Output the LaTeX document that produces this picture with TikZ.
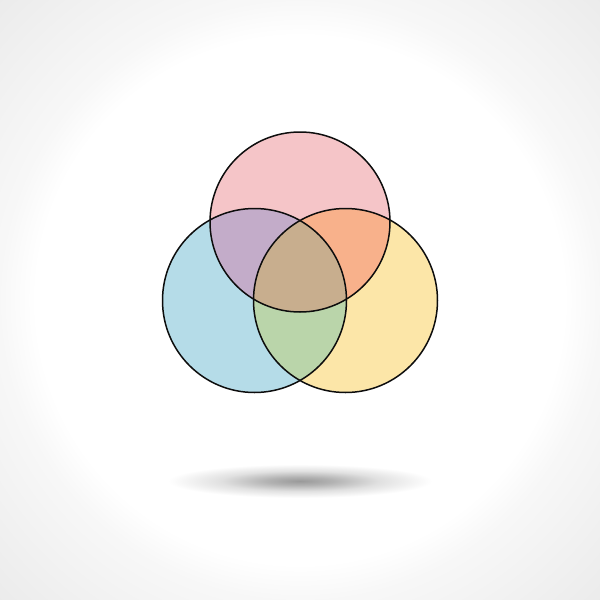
\documentclass[tikz,border=0pt]{standalone}
\definecolor{pinkc}{HTML}{F5C5C8}
\definecolor{bluec}{HTML}{B5DCE8}
\definecolor{yellowc}{HTML}{FCE6A8}
\definecolor{purplec}{HTML}{C3ACC9}
\definecolor{orangec}{HTML}{F8B18B}
\definecolor{greenc}{HTML}{BAD5AA}
\definecolor{centerc}{HTML}{C8AE8E}
\pgfdeclareradialshading{vign}{\pgfpoint{0bp}{0bp}}{color(0bp)=(white); color(22bp)=(white); color(25bp)=(black!3); color(36bp)=(black!8); color(50bp)=(black!8)}
\pgfdeclareradialshading{shadowsh}{\pgfpoint{0bp}{0bp}}{color(0bp)=(black!40); color(5bp)=(black!30); color(12bp)=(black!12); color(20bp)=(white); color(50bp)=(white)}
\tikzset{ring/.style={draw=black!95, line width=1.5pt}}
\begin{document}
\begin{tikzpicture}[x=1pt,y=-1pt]
\useasboundingbox (0,0) rectangle (600,600);
\shade[shading=vign] (0,0) rectangle (600,600);
\shade[shading=shadowsh] (300,481) ellipse [x radius=165, y radius=21];
\coordinate (T) at (300,222);
\coordinate (L) at (254.5,300.5);
\coordinate (R) at (345.5,300.5);
\fill[pinkc] (T) circle[radius=90];
\fill[bluec] (L) circle[radius=92];
\fill[yellowc] (R) circle[radius=92];
\begin{scope}
  \clip (L) circle[radius=92];
  \fill[greenc] (R) circle[radius=92];
\end{scope}
\begin{scope}
  \clip (T) circle[radius=90];
  \fill[purplec] (L) circle[radius=92];
  \fill[orangec] (R) circle[radius=92];
  \clip (L) circle[radius=92];
  \fill[centerc] (R) circle[radius=92];
\end{scope}
\node[ring, circle, inner sep=0pt, minimum size=180pt] (top) at (T) {};
\node[ring, circle, inner sep=0pt, minimum size=184pt] (left) at (L) {};
\node[ring, circle, inner sep=0pt, minimum size=184pt] (right) at (R) {};
\end{tikzpicture}
\end{document}
